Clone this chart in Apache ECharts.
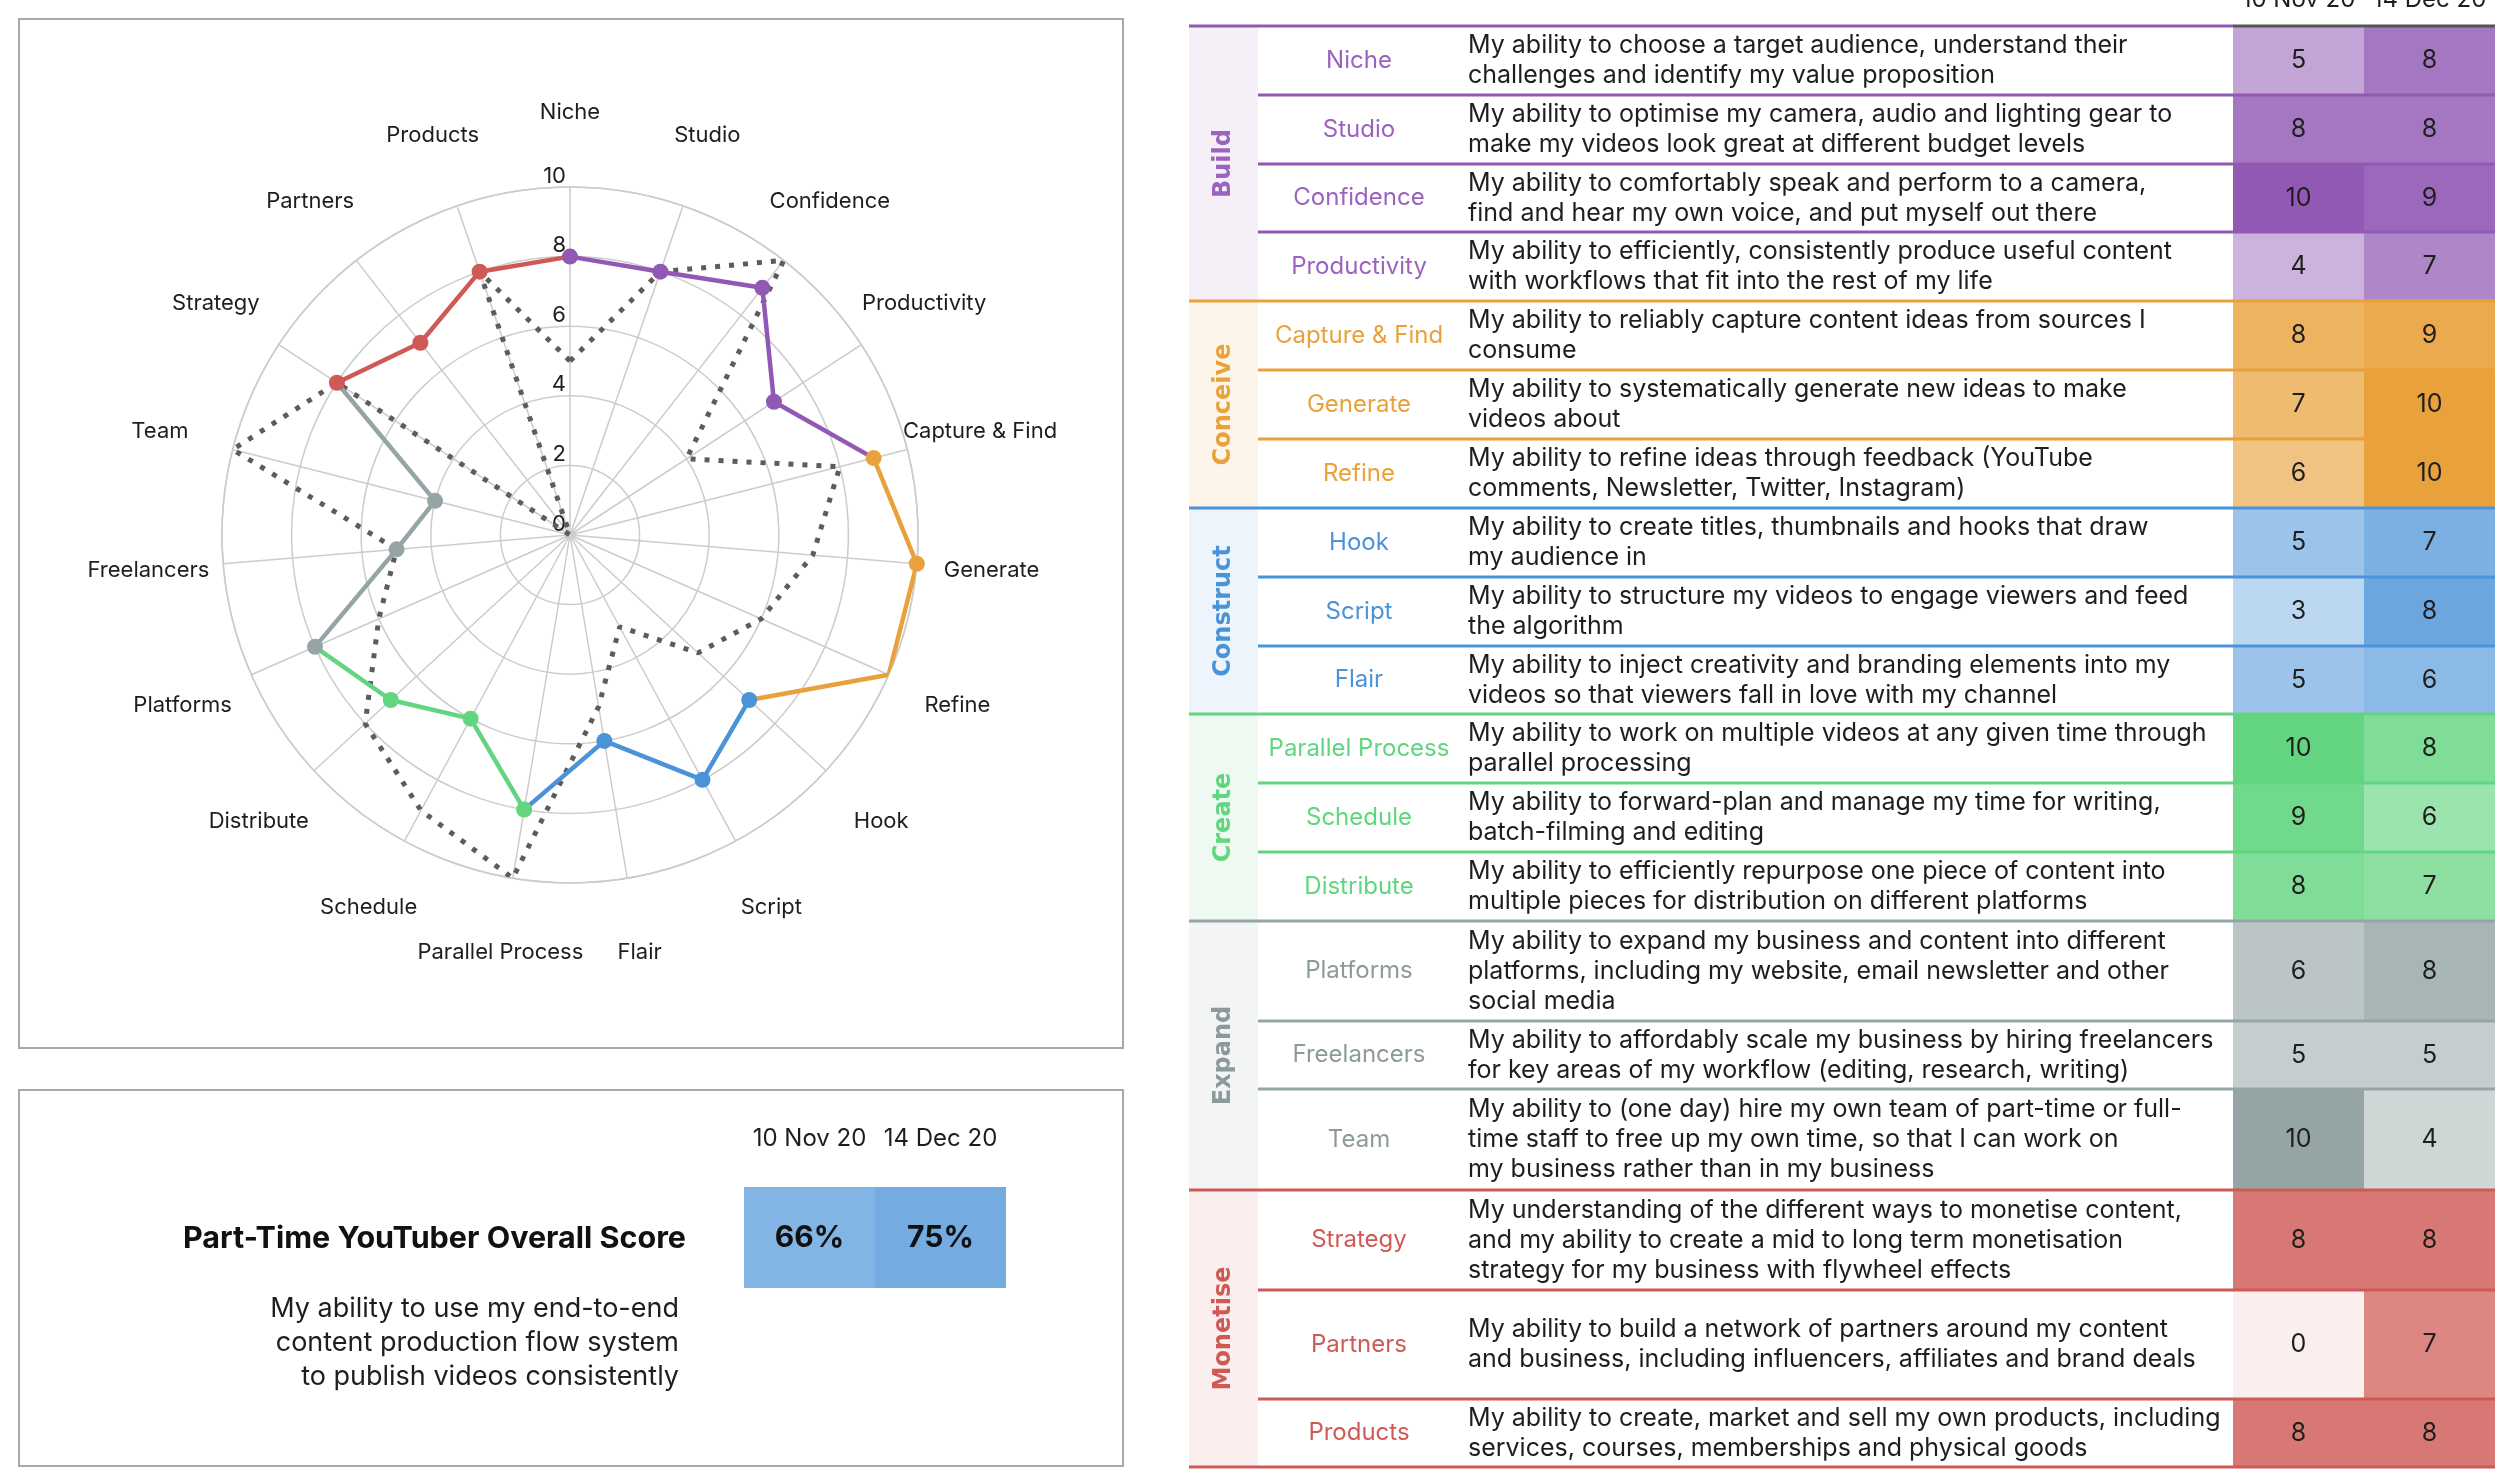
<!DOCTYPE html>
<html><head><meta charset="utf-8">
<script src="https://cdn.jsdelivr.net/npm/echarts@6/dist/echarts.min.js"></script>
<style>html,body{margin:0;padding:0;background:#fff;}#c{width:2514px;height:1480px;}</style>
</head><body><div id="c"></div>
<script>
// ---------------- DATA ----------------
const skills = ['Niche','Studio','Confidence','Productivity','Capture & Find','Generate','Refine','Hook','Script','Flair','Parallel Process','Schedule','Distribute','Platforms','Freelancers','Team','Strategy','Partners','Products'];
const groups = ['Build','Conceive','Construct','Create','Expand','Monetise'];
const skillGroup = [0,0,0,0,1,1,1,2,2,2,3,3,3,4,4,4,5,5,5];
const dates = ['10 Nov 20','14 Dec 20'];
const scoresNov = [5,8,10,4,8,7,6,5,3,5,10,9,8,6,5,10,8,0,8];
const scoresDec = [8,8,9,7,9,10,10,7,8,6,8,6,7,8,5,4,8,7,8];
const overallScore = [66,75];
const radiusMax = 10, radiusStep = 2;
const descriptions = [
 'My ability to choose a target audience, understand their\nchallenges and identify my value proposition',
 'My ability to optimise my camera, audio and lighting gear to\nmake my videos look great at different budget levels',
 'My ability to comfortably speak and perform to a camera,\nfind and hear my own voice, and put myself out there',
 'My ability to efficiently, consistently produce useful content\nwith workflows that fit into the rest of my life',
 'My ability to reliably capture content ideas from sources I\nconsume',
 'My ability to systematically generate new ideas to make\nvideos about',
 'My ability to refine ideas through feedback (YouTube\ncomments, Newsletter, Twitter, Instagram)',
 'My ability to create titles, thumbnails and hooks that draw\nmy audience in',
 'My ability to structure my videos to engage viewers and feed\nthe algorithm',
 'My ability to inject creativity and branding elements into my\nvideos so that viewers fall in love with my channel',
 'My ability to work on multiple videos at any given time through\nparallel processing',
 'My ability to forward-plan and manage my time for writing,\nbatch-filming and editing',
 'My ability to efficiently repurpose one piece of content into\nmultiple pieces for distribution on different platforms',
 'My ability to expand my business and content into different\nplatforms, including my website, email newsletter and other\nsocial media',
 'My ability to affordably scale my business by hiring freelancers\nfor key areas of my workflow (editing, research, writing)',
 'My ability to (one day) hire my own team of part-time or full-\ntime staff to free up my own time, so that I can work on\nmy business rather than in my business',
 'My understanding of the different ways to monetise content,\nand my ability to create a mid to long term monetisation\nstrategy for my business with flywheel effects',
 'My ability to build a network of partners around my content\nand business, including influencers, affiliates and brand deals',
 'My ability to create, market and sell my own products, including\nservices, courses, memberships and physical goods'
];
const overallTitle = 'Part-Time YouTuber Overall Score';
const overallDesc = 'My ability to use my end-to-end\ncontent production flow system\nto publish videos consistently';

// ---------------- STYLE / LAYOUT ----------------
const FONT = 'Inter, "Noto Sans", sans-serif';
const groupColors = ['#9159b4','#e9a23b','#4b93d8','#63d580','#95a5a6','#cf5a55'];
const groupText   = ['#9b62bf','#e9a23b','#4b93d8','#5fd67f','#8d9a9b','#cf5a55'];
const groupTints  = ['#f5eff8','#fdf5ea','#eef4fb','#eefaf1','#f3f4f4','#fbeeee'];
const scoreBase = '#4b93d8';
const rowSpan = [69,69,68,69, 69,69,69, 69,69,68, 69,69,69, 100,68,101, 100,109,68];
const T = {left:1189, top:26, textW:1044, cellW:262, band:69, nameX:170, descX:279};
const POLAR = {cx:570, cy:535, r:348, labelGap:75};
const rowStart = []; let acc = 0; rowSpan.forEach(h => { rowStart.push(acc); acc += h; });
const tableH = acc;

function mix(hex, a) {
  const n = parseInt(hex.slice(1), 16);
  const r = (n >> 16) & 255, g = (n >> 8) & 255, b = n & 255;
  const f = c => Math.round(255 - a * (255 - c));
  return 'rgb(' + f(r) + ',' + f(g) + ',' + f(b) + ')';
}
function cellColor(base, frac) { return mix(base, 0.1 + 0.9 * frac); }

// ---------------- CHART ----------------
const chart = echarts.init(document.getElementById('c'), null, {renderer: 'canvas'});

const radarSeries = [];
radarSeries.push({
  type: 'line', coordinateSystem: 'polar', polarIndex: 0, name: dates[0],
  data: scoresNov.map((v, i) => [v, i]).concat([[scoresNov[0], skills.length]]),
  symbol: 'none', z: 2,
  lineStyle: {color: '#5c5c5c', width: 5, type: [5, 9], cap: 'butt'}
});
groups.forEach((gName, g) => {
  const idx = skillGroup.map((x, i) => x === g ? i : -1).filter(i => i >= 0);
  const next = idx[idx.length - 1] + 1;
  const data = idx.map(i => ({value: [scoresDec[i], i]}));
  data.push({value: [scoresDec[next % skills.length], next], symbol: 'none'});
  radarSeries.push({
    type: 'line', coordinateSystem: 'polar', polarIndex: 0, name: gName,
    data: data, symbol: 'circle', symbolSize: 16, z: 3,
    itemStyle: {color: groupColors[g]},
    lineStyle: {color: groupColors[g], width: 4.5}
  });
});

function renderAxisName(params, api) {
  const i = api.value(1);
  const p = api.coord([api.value(0), i]);
  const c = api.coord([0, i]);
  const dx = p[0] - c[0], dy = p[1] - c[1];
  const len = Math.sqrt(dx * dx + dy * dy) || 1;
  const k = (len + POLAR.labelGap) / len;
  return {type: 'text', x: c[0] + dx * k, y: c[1] + dy * k,
    style: {text: skills[i], fill: '#1e1e1e', font: '22px ' + FONT, align: 'center', verticalAlign: 'middle'}};
}

function renderRow(params, api) {
  const i = api.value(0);
  const g = skillGroup[i];
  const first = i === 0 || skillGroup[i - 1] !== g;
  const last = i === skills.length - 1;
  const pTL = api.coord([0, rowStart[i]]);
  const pBR = api.coord([T.textW, rowStart[i] + rowSpan[i]]);
  const midY = (pTL[1] + pBR[1]) / 2;
  const bandX = api.coord([T.band, 0])[0];
  const ch = [];
  if (first) {
    let j = i; while (j + 1 < skills.length && skillGroup[j + 1] === g) j++;
    const gb = api.coord([T.band, rowStart[j] + rowSpan[j]]);
    ch.push({type: 'rect', shape: {x: pTL[0], y: pTL[1], width: gb[0] - pTL[0], height: gb[1] - pTL[1]}, style: {fill: groupTints[g]}});
    ch.push({type: 'text', x: (pTL[0] + gb[0]) / 2, y: (pTL[1] + gb[1]) / 2, rotation: Math.PI / 2,
      style: {text: groups[g], fill: groupText[g], font: 'bold 24px "DejaVu Sans"', align: 'center', verticalAlign: 'middle'}});
  }
  ch.push({type: 'text', x: api.coord([T.nameX, 0])[0], y: midY,
    style: {text: skills[i], fill: groupText[g], font: '24px ' + FONT, align: 'center', verticalAlign: 'middle'}});
  ch.push({type: 'text', x: api.coord([T.descX, 0])[0], y: midY,
    style: {text: descriptions[i], fill: '#1e1e1e', font: '25px ' + FONT, lineHeight: 30, align: 'left', verticalAlign: 'middle'}});
  ch.push({type: 'line', shape: {x1: first ? pTL[0] : bandX, y1: pTL[1], x2: pBR[0], y2: pTL[1]}, style: {stroke: groupColors[g], lineWidth: 3}});
  if (last) ch.push({type: 'line', shape: {x1: pTL[0], y1: pBR[1], x2: pBR[0], y2: pBR[1]}, style: {stroke: groupColors[g], lineWidth: 3}});
  return {type: 'group', children: ch};
}

function renderCell(params, api) {
  const c = api.value(0), i = api.value(1), v = api.value(2);
  const g = skillGroup[i];
  const bw = api.size([1, 0])[0];
  const cx = api.coord([c, 0])[0];
  const y0 = api.coord([c, rowStart[i]])[1];
  const y1 = api.coord([c, rowStart[i] + rowSpan[i]])[1];
  const ch = [
    {type: 'rect', shape: {x: cx - bw / 2, y: y0, width: bw, height: y1 - y0}, style: {fill: cellColor(groupColors[g], v / radiusMax)}},
    {type: 'text', x: cx, y: (y0 + y1) / 2, style: {text: String(v), fill: '#1e1e1e', font: '25px ' + FONT, align: 'center', verticalAlign: 'middle'}},
    {type: 'line', shape: {x1: cx - bw / 2, y1: y0, x2: cx + bw / 2, y2: y0}, style: {stroke: i === 0 ? '#555' : groupColors[g], lineWidth: 3}}
  ];
  if (i === skills.length - 1) ch.push({type: 'line', shape: {x1: cx - bw / 2, y1: y1, x2: cx + bw / 2, y2: y1}, style: {stroke: groupColors[g], lineWidth: 3}});
  return {type: 'group', children: ch};
}

function renderScore(params, api) {
  const c = api.value(0), v = api.value(2);
  const bw = api.size([1, 0])[0];
  const p = api.coord([c, 0]);
  const bh = api.size([0, 1])[1];
  return {type: 'group', children: [
    {type: 'rect', shape: {x: p[0] - bw / 2, y: p[1] - bh / 2, width: bw, height: bh}, style: {fill: cellColor(scoreBase, v / 100)}},
    {type: 'text', x: p[0], y: p[1], style: {text: v + '%', fill: '#111', font: 'bold 30px ' + FONT, align: 'center', verticalAlign: 'middle'}}
  ]};
}

const cellData = [];
skills.forEach((s, i) => { cellData.push([0, i, scoresNov[i]]); cellData.push([1, i, scoresDec[i]]); });

const option = {
  animation: false,
  backgroundColor: '#fff',
  textStyle: {fontFamily: FONT},
  polar: {center: [POLAR.cx, POLAR.cy], radius: POLAR.r},
  angleAxis: {
    type: 'value', min: 0, max: skills.length, interval: 1, startAngle: 90, clockwise: true,
    axisLine: {show: true, lineStyle: {color: '#cccccc', width: 1.5}},
    axisTick: {show: false},
    splitLine: {show: true, lineStyle: {color: '#cccccc', width: 1.5}},
    axisLabel: {show: false}
  },
  radiusAxis: {
    type: 'value', min: 0, max: radiusMax, interval: radiusStep,
    axisLine: {show: false}, axisTick: {show: false},
    splitLine: {show: true, lineStyle: {color: '#cccccc', width: 1.5}},
    axisLabel: {fontSize: 22, color: '#1e1e1e', fontFamily: FONT, margin: 4, verticalAlign: 'bottom'}
  },
  grid: [
    {left: T.left, top: T.top, width: T.textW, height: tableH, outerBoundsMode: 'none', containLabel: false},
    {left: T.left + T.textW, top: T.top, width: T.cellW, height: tableH, outerBoundsMode: 'none', containLabel: false},
    {left: 744, top: 1187, width: 262, height: 101, outerBoundsMode: 'none', containLabel: false}
  ],
  xAxis: [
    {gridIndex: 0, type: 'value', min: 0, max: T.textW, show: false},
    {gridIndex: 1, type: 'category', data: dates, position: 'top', axisLine: {show: false}, axisTick: {show: false},
      axisLabel: {interval: 0, fontSize: 24, color: '#1e1e1e', margin: 14, fontFamily: FONT}},
    {gridIndex: 2, type: 'category', data: dates, position: 'top', axisLine: {show: false}, axisTick: {show: false},
      axisLabel: {interval: 0, fontSize: 24, color: '#1e1e1e', margin: 36, fontFamily: FONT}}
  ],
  yAxis: [
    {gridIndex: 0, type: 'value', min: 0, max: tableH, inverse: true, show: false},
    {gridIndex: 1, type: 'value', min: 0, max: tableH, inverse: true, show: false},
    {gridIndex: 2, type: 'category', data: ['overall'], show: false}
  ],
  graphic: [
    {type: 'rect', shape: {x: 19, y: 19, width: 1104, height: 1029}, style: {fill: 'none', stroke: '#a8a8a8', lineWidth: 2}, z: -1},
    {type: 'rect', shape: {x: 19, y: 1090, width: 1104, height: 376}, style: {fill: 'none', stroke: '#a8a8a8', lineWidth: 2}, z: -1},
    {type: 'text', x: 686, y: 1239, style: {text: overallTitle, fill: '#111', font: 'bold 30.5px ' + FONT, align: 'right', verticalAlign: 'middle'}},
    {type: 'text', x: 679, y: 1343, style: {text: overallDesc, fill: '#1e1e1e', font: '27px ' + FONT, lineHeight: 34, align: 'right', verticalAlign: 'middle'}}
  ],
  series: radarSeries.concat([
    {type: 'custom', coordinateSystem: 'polar', polarIndex: 0, data: skills.map((s, i) => [radiusMax, i]), renderItem: renderAxisName, silent: true, z: 4},
    {type: 'custom', xAxisIndex: 0, yAxisIndex: 0, data: skills.map((s, i) => [i]), renderItem: renderRow, clip: false, silent: true},
    {type: 'custom', xAxisIndex: 1, yAxisIndex: 1, data: cellData, encode: {x: 0, y: 1}, renderItem: renderCell, clip: false, silent: true, z: 3},
    {type: 'custom', xAxisIndex: 2, yAxisIndex: 2, data: overallScore.map((v, c) => [c, 0, v]), encode: {x: 0, y: 1}, renderItem: renderScore, clip: false, silent: true}
  ])
};
chart.setOption(option);
</script></body></html>
